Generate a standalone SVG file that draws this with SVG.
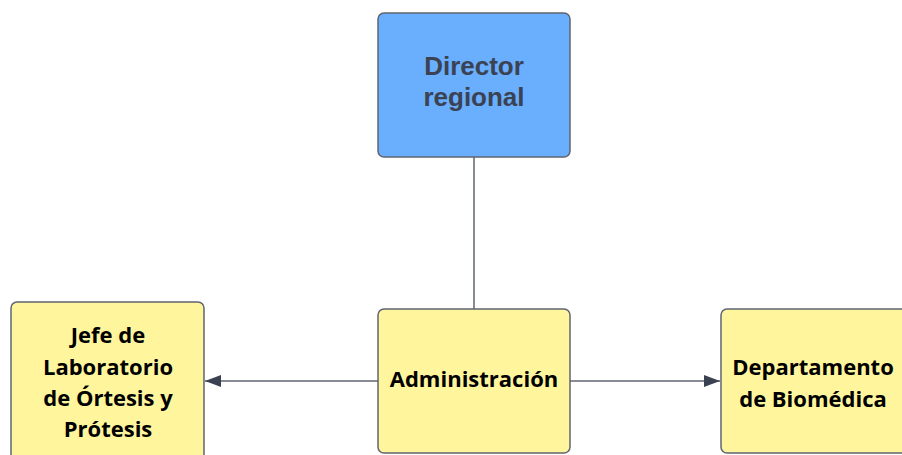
<svg xmlns="http://www.w3.org/2000/svg" width="902" height="455" viewBox="0 0 902 455">
<style>
.box{stroke:#5e6470;stroke-width:1.5}
.yel{fill:#fff59d}
.blue{fill:#6aaefe}
.t1{font-family:"Liberation Sans",Arial,sans-serif;font-weight:bold;font-size:26px;fill:#3b4252;text-anchor:middle}
.t2{font-family:"Open Sans","Noto Sans",sans-serif;font-weight:bold;font-size:22px;fill:#000;text-anchor:middle}
.ln{stroke:#5e6470;stroke-width:1.5;fill:none}
</style>
<defs>
<marker id="ah" markerWidth="16" markerHeight="12" refX="16" refY="6" orient="auto" markerUnits="userSpaceOnUse">
<path d="M0,0 L16,6 L0,12 Z" fill="#3a4150"/>
</marker>
</defs>
<g id="connectors">
<line class="ln" x1="474" y1="157" x2="474" y2="309"/>
<line class="ln" x1="378" y1="381" x2="205" y2="381" marker-end="url(#ah)"/>
<line class="ln" x1="570" y1="381" x2="720" y2="381" marker-end="url(#ah)"/>
</g>
<g id="director">
<rect class="box blue" x="378" y="13" width="192" height="144" rx="6"/>
<text class="t1" x="474" y="75">Director</text>
<text class="t1" x="474" y="106">regional</text>
</g>
<g id="jefe">
<rect class="box yel" x="11" y="302" width="193" height="170" rx="6"/>
<text class="t2" x="108" y="343">Jefe de</text>
<text class="t2" x="108" y="375">Laboratorio</text>
<text class="t2" x="108" y="406">de Órtesis y</text>
<text class="t2" x="108" y="437">Prótesis</text>
</g>
<g id="admin">
<rect class="box yel" x="378" y="309" width="192" height="144" rx="6"/>
<text class="t2" x="474" y="387">Administración</text>
</g>
<g id="biomedica">
<rect class="box yel" x="721" y="309" width="192" height="144" rx="6"/>
<text class="t2" x="813" y="375">Departamento</text>
<text class="t2" x="813" y="407">de Biomédica</text>
</g>
</svg>
